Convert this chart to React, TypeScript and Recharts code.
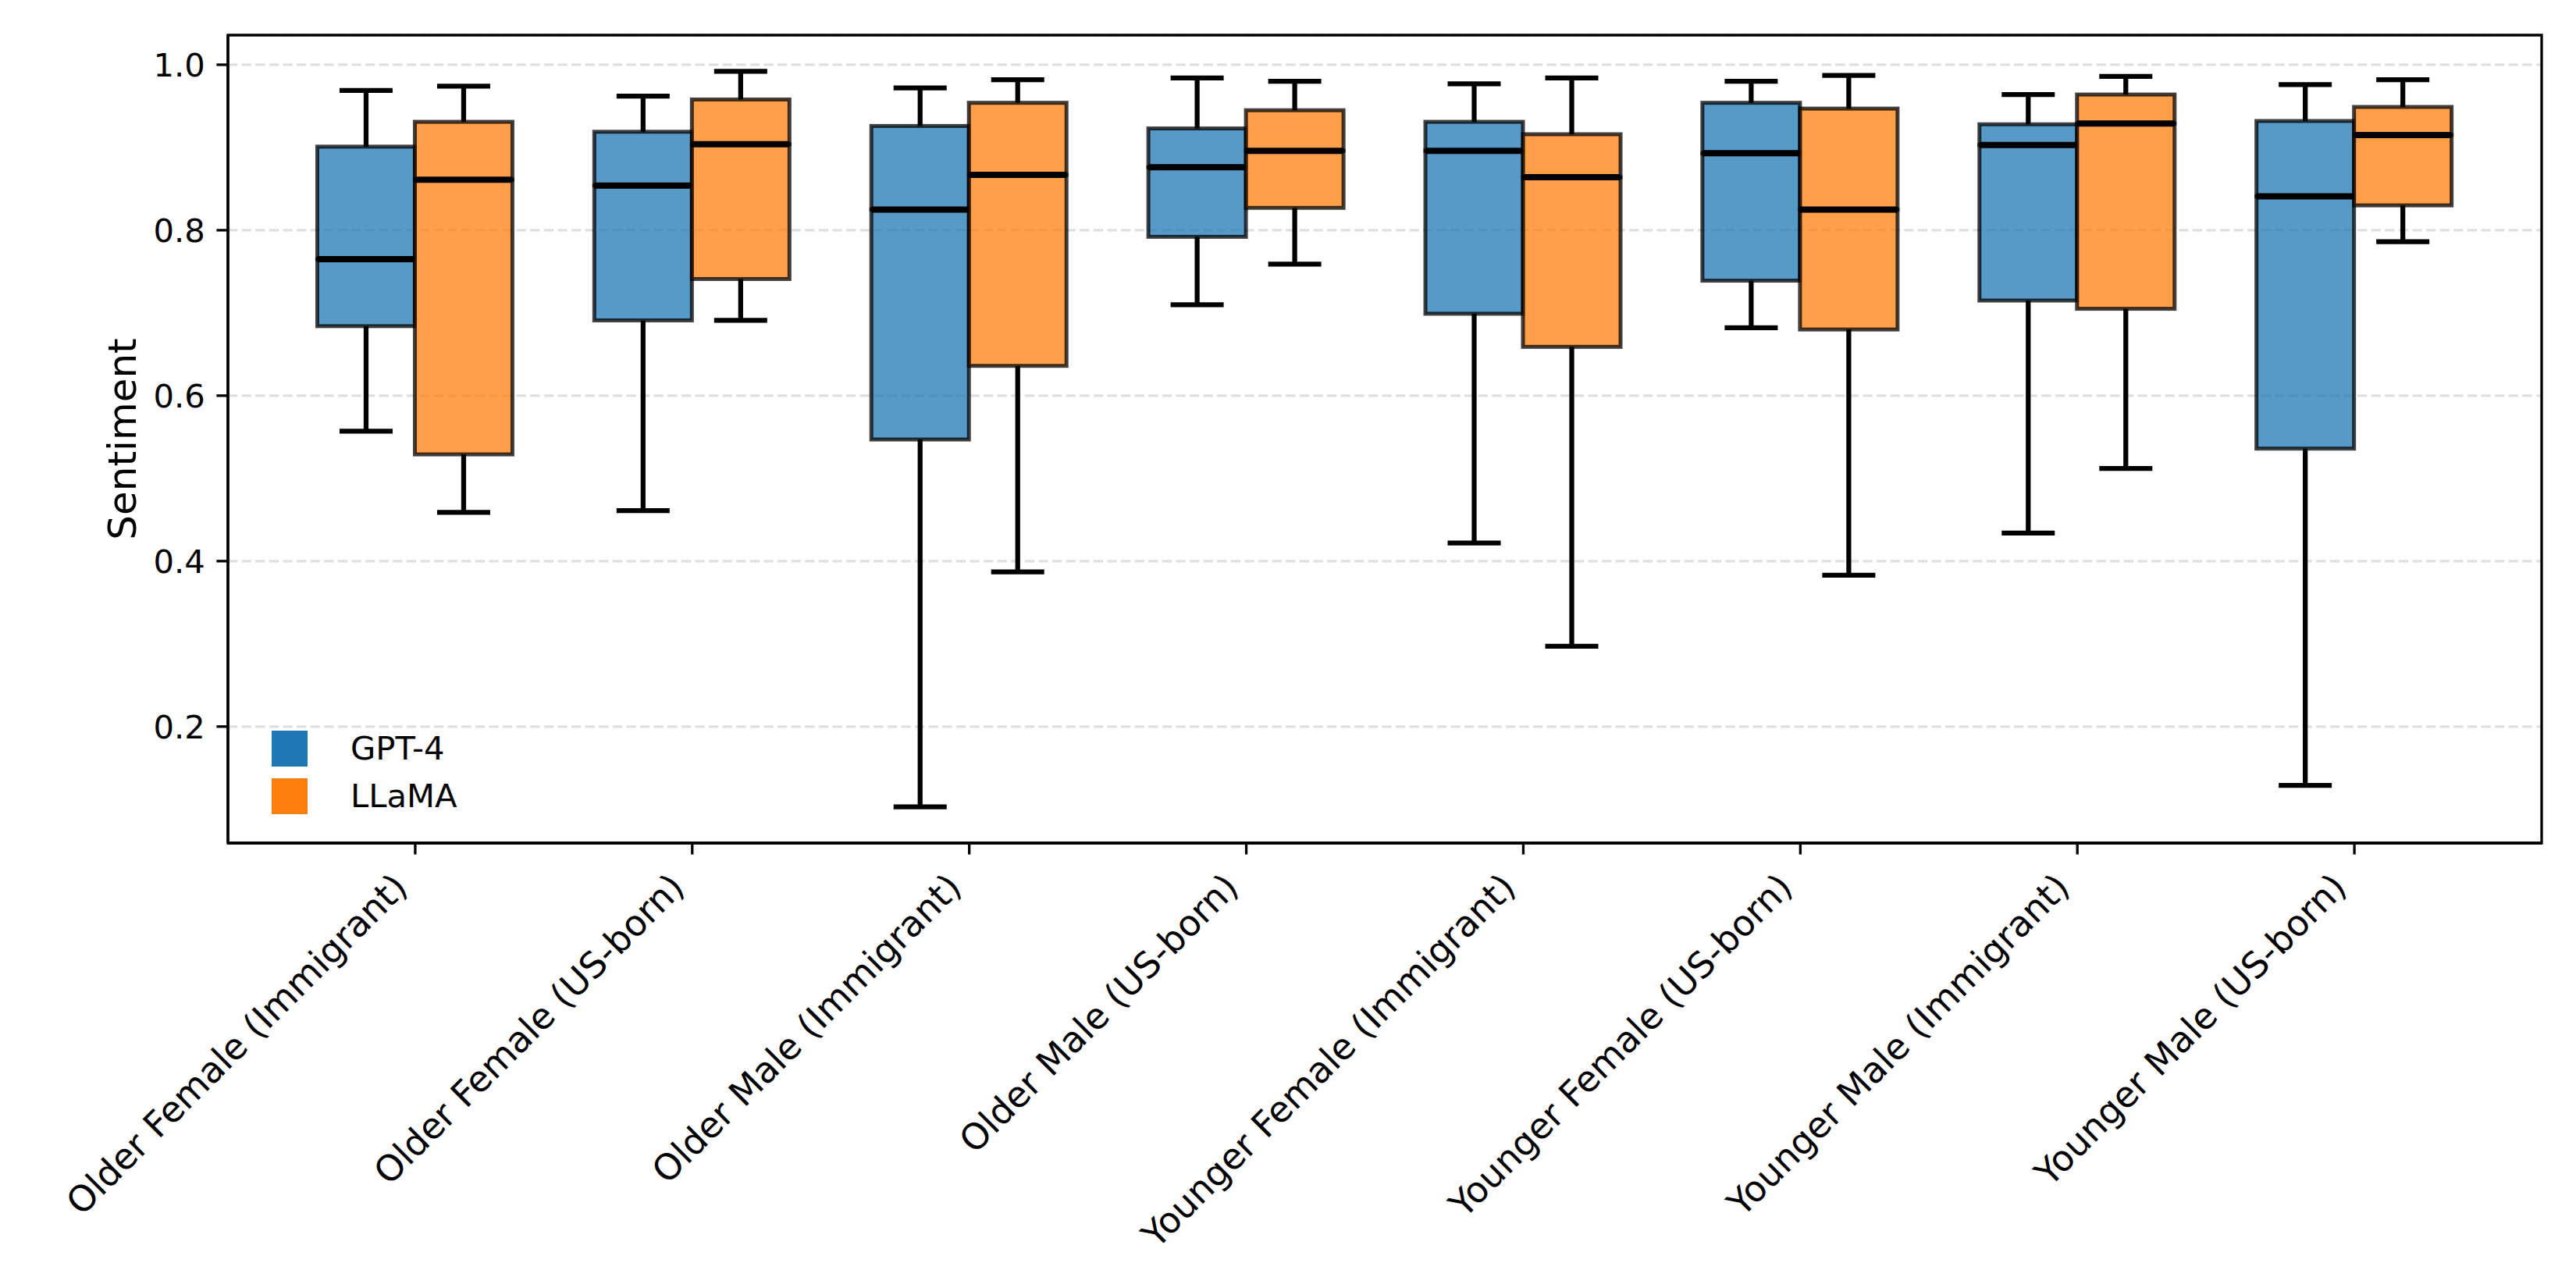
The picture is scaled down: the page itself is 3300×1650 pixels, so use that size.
import React from 'react'
import { ComposedChart, Bar, XAxis, YAxis, CartesianGrid, Legend, Label, ReferenceArea } from 'recharts'

const categories = [
  'Older Female (Immigrant)',
  'Older Female (US-born)',
  'Older Male (Immigrant)',
  'Older Male (US-born)',
  'Younger Female (Immigrant)',
  'Younger Female (US-born)',
  'Younger Male (Immigrant)',
  'Younger Male (US-born)',
]

const gptMin = [0.557, 0.461, 0.103, 0.710, 0.422, 0.682, 0.434, 0.129]
const gptQ1 = [0.684, 0.691, 0.547, 0.792, 0.699, 0.739, 0.715, 0.536]
const gptMedian = [0.765, 0.854, 0.825, 0.876, 0.896, 0.893, 0.903, 0.841]
const gptQ3 = [0.901, 0.919, 0.926, 0.923, 0.931, 0.954, 0.928, 0.932]
const gptMax = [0.969, 0.962, 0.972, 0.984, 0.977, 0.980, 0.964, 0.976]

const llamaMin = [0.459, 0.691, 0.387, 0.759, 0.297, 0.383, 0.512, 0.786]
const llamaQ1 = [0.529, 0.741, 0.636, 0.827, 0.659, 0.680, 0.705, 0.830]
const llamaMedian = [0.861, 0.904, 0.867, 0.896, 0.864, 0.825, 0.929, 0.915]
const llamaQ3 = [0.931, 0.958, 0.954, 0.945, 0.916, 0.947, 0.964, 0.949]
const llamaMax = [0.974, 0.992, 0.982, 0.980, 0.984, 0.987, 0.986, 0.982]

const yTicks = [0.2, 0.4, 0.6, 0.8, 1.0]
const xTicks = categories.map((_, i) => i)
const xDomain = [-0.676, 7.676]
const yDomain = [0.0592, 1.0358]

const series = [
  { key: 'gpt', name: 'GPT-4', color: '#1f77b4', min: gptMin, q1: gptQ1, med: gptMedian, q3: gptQ3, max: gptMax },
  { key: 'llama', name: 'LLaMA', color: '#ff7f0e', min: llamaMin, q1: llamaQ1, med: llamaMedian, q3: llamaQ3, max: llamaMax },
]

// stacked segments: base (hidden) -> lower whisker -> lower box -> upper box -> upper whisker
const data = categories.map((name, i) => {
  const row: Record<string, any> = { name, idx: i }
  series.forEach((s) => {
    row[`${s.key}_base`] = s.min[i]
    row[`${s.key}_lw`] = s.q1[i] - s.min[i]
    row[`${s.key}_bl`] = s.med[i] - s.q1[i]
    row[`${s.key}_bh`] = s.q3[i] - s.med[i]
    row[`${s.key}_hw`] = s.max[i] - s.q3[i]
  })
  return row
})

const FONT = 'DejaVu Sans'
const LINE = 6.25
const EDGE = 5
const CAP = 68

const Hidden = () => <g />

const LowWhisker = (p: any) => {
  const cx = p.x + p.width / 2
  const bottom = p.y + p.height
  return (
    <g>
      <line x1={cx} x2={cx} y1={p.y} y2={bottom} stroke="#000" strokeWidth={LINE} />
      <line x1={cx - CAP / 2} x2={cx + CAP / 2} y1={bottom} y2={bottom} stroke="#000" strokeWidth={LINE} />
    </g>
  )
}

const HighWhisker = (p: any) => {
  const cx = p.x + p.width / 2
  return (
    <g>
      <line x1={cx} x2={cx} y1={p.y} y2={p.y + p.height} stroke="#000" strokeWidth={LINE} />
      <line x1={cx - CAP / 2} x2={cx + CAP / 2} y1={p.y} y2={p.y} stroke="#000" strokeWidth={LINE} />
    </g>
  )
}

const makeBox = (color: string, withMedian: boolean) => (p: any) => (
  <g>
    <rect x={p.x} y={p.y} width={p.width} height={p.height} fill={color} fillOpacity={0.75}
      stroke="#000" strokeOpacity={0.75} strokeWidth={EDGE} />
    {withMedian && (
      <line x1={p.x} x2={p.x + p.width} y1={p.y + p.height} y2={p.y + p.height} stroke="#000" strokeWidth={8} />
    )}
  </g>
)

const XTick = (p: any) => (
  <text
    transform={`translate(${p.x - 7.6},${p.y + 44.5}) rotate(-45)`}
    textAnchor="end"
    fontSize={45.8}
    fill="#000"
    fontFamily={FONT}
  >
    {categories[p.payload.value]}
  </text>
)

const renderYLabel = (p: any) => {
  const vb = p.viewBox
  return (
    <text
      transform={`translate(${vb.x + 174},${vb.y + vb.height / 2}) rotate(-90)`}
      textAnchor="middle"
      fontSize={50}
      fill="#000"
      fontFamily={FONT}
    >
      Sentiment
    </text>
  )
}

const renderLegend = () => (
  <div style={{ fontFamily: FONT, fontSize: 41.7, color: '#000' }}>
    {series.map((s) => (
      <div key={s.key} style={{ display: 'flex', alignItems: 'center', height: 46, marginBottom: 15 }}>
        <div style={{ width: 46, height: 46, background: s.color }} />
        <span style={{ marginLeft: 55, lineHeight: 1 }}>{s.name}</span>
      </div>
    ))}
  </div>
)

export default function App() {
  return (
    <div style={{ position: 'absolute', left: 0, top: 0, width: 3300, height: 1650, background: '#fff', fontFamily: FONT }}>
      <ComposedChart
        width={3300}
        height={1650}
        data={data}
        margin={{ top: 45, right: 44, bottom: 0, left: 0 }}
        barGap={0}
        barSize={125}
      >
        <CartesianGrid vertical={false} stroke="#e0e0e0" strokeWidth={3.3} strokeDasharray="12.3 5.3" />
        <XAxis
          dataKey="idx"
          type="number"
          domain={xDomain}
          allowDataOverflow
          ticks={xTicks}
          interval={0}
          height={570}
          tickSize={14.6}
          tickMargin={0}
          tickLine={{ stroke: '#000', strokeWidth: 3.3 }}
          axisLine={{ stroke: '#000', strokeWidth: 3.3 }}
          tick={<XTick />}
        />
        <YAxis
          width={292}
          type="number"
          domain={yDomain}
          allowDataOverflow
          ticks={yTicks}
          tickFormatter={(v: number) => v.toFixed(1)}
          tickSize={14.6}
          tickMargin={14.6}
          tick={{ fontSize: 41.7, fill: '#000', fontFamily: FONT }}
          tickLine={{ stroke: '#000', strokeWidth: 3.3 }}
          axisLine={{ stroke: '#000', strokeWidth: 3.3 }}
        >
          <Label content={renderYLabel} />
        </YAxis>
        {series.map((s) => [
          <Bar key={`${s.key}_base`} dataKey={`${s.key}_base`} stackId={s.key} fill={s.color} shape={Hidden} isAnimationActive={false} legendType="none" />,
          <Bar key={`${s.key}_lw`} dataKey={`${s.key}_lw`} stackId={s.key} fill={s.color} shape={LowWhisker} isAnimationActive={false} legendType="none" />,
          <Bar key={`${s.key}_bl`} dataKey={`${s.key}_bl`} stackId={s.key} fill={s.color} shape={makeBox(s.color, false)} isAnimationActive={false} legendType="none" />,
          <Bar key={`${s.key}_bh`} dataKey={`${s.key}_bh`} stackId={s.key} fill={s.color} shape={makeBox(s.color, true)} isAnimationActive={false} legendType="none" />,
          <Bar key={`${s.key}_hw`} dataKey={`${s.key}_hw`} stackId={s.key} fill={s.color} shape={HighWhisker} isAnimationActive={false} legendType="none" />,
        ])}
        <ReferenceArea
          x1={xDomain[0]}
          x2={xDomain[1]}
          y1={yDomain[0]}
          y2={yDomain[1]}
          fill="none"
          fillOpacity={0}
          stroke="#000"
          strokeWidth={3.3}
          ifOverflow="visible"
        />
        <Legend
          layout="vertical"
          align="center"
          verticalAlign="middle"
          content={renderLegend}
          wrapperStyle={{ left: 348, top: 936, width: 320, height: 110 }}
        />
      </ComposedChart>
    </div>
  )
}
